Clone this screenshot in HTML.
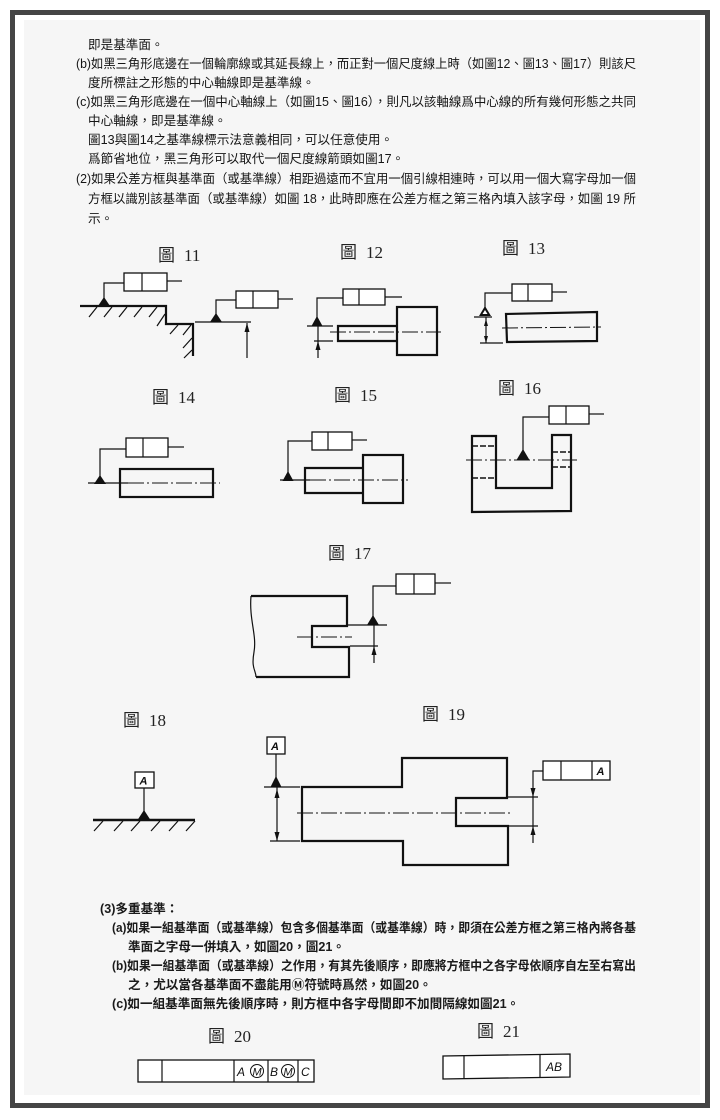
<!DOCTYPE html>
<html><head><meta charset="utf-8"><style>
html,body{margin:0;padding:0;background:#fff;}
svg{display:block;}
.t{font-family:"Liberation Sans","Noto Sans CJK TC",sans-serif;font-size:12.6px;fill:#151515;}
.tb{font-family:"Liberation Sans","Noto Sans CJK TC",sans-serif;font-size:12.6px;fill:#1a1a1a;font-weight:bold;}
.lb{font-family:"Liberation Serif","Noto Sans CJK TC",serif;font-size:17px;fill:#222;}
.it{font-family:"Liberation Sans",sans-serif;font-style:italic;font-weight:bold;font-size:11px;fill:#111;}
.th{stroke:#111;stroke-width:1.2;fill:none;}
.tk{stroke:#111;stroke-width:2.2;fill:none;}
.cl{stroke:#111;stroke-width:1;fill:none;stroke-dasharray:16 3 2 3;}
.dh{stroke:#111;stroke-width:1.6;fill:none;stroke-dasharray:6 2;}
.bx{stroke:#111;stroke-width:1.3;fill:#fff;}
.tri{fill:#111;}
</style></head><body>
<svg width="720" height="1120" viewBox="0 0 720 1120" xmlns="http://www.w3.org/2000/svg">
<rect x="0" y="0" width="720" height="1120" fill="#fff"/>
<rect x="24" y="20" width="676" height="1075" fill="#f6f6f6"/>
<rect x="12.5" y="12.5" width="695" height="1093" fill="none" stroke="#454545" stroke-width="5"/>

<!-- upper text -->
<text class="t" x="88" y="49">即是基準面。</text>
<text class="t" x="76" y="68" textLength="560" lengthAdjust="spacingAndGlyphs">(b)如黑三角形底邊在一個輪廓線或其延長線上，而正對一個尺度線上時（如圖12、圖13、圖17）則該尺</text>
<text class="t" x="88" y="87">度所標註之形態的中心軸線即是基準線。</text>
<text class="t" x="76" y="106" textLength="560" lengthAdjust="spacingAndGlyphs">(c)如黑三角形底邊在一個中心軸線上（如圖15、圖16），則凡以該軸線爲中心線的所有幾何形態之共同</text>
<text class="t" x="88" y="125">中心軸線，即是基準線。</text>
<text class="t" x="88" y="144">圖13與圖14之基準線標示法意義相同，可以任意使用。</text>
<text class="t" x="88" y="163">爲節省地位，黑三角形可以取代一個尺度線箭頭如圖17。</text>
<text class="t" x="76" y="183" textLength="560" lengthAdjust="spacingAndGlyphs">(2)如果公差方框與基準面（或基準線）相距過遠而不宜用一個引線相連時，可以用一個大寫字母加一個</text>
<text class="t" x="88" y="203" textLength="548" lengthAdjust="spacingAndGlyphs">方框以識別該基準面（或基準線）如圖 18，此時即應在公差方框之第三格內填入該字母，如圖 19 所</text>
<text class="t" x="88" y="223">示。</text>

<!-- figure labels -->
<text class="lb" x="158" y="261">圖<tspan dx="9">11</tspan></text>
<text class="lb" x="340" y="258">圖<tspan dx="9">12</tspan></text>
<text class="lb" x="502" y="254">圖<tspan dx="9">13</tspan></text>
<text class="lb" x="152" y="403">圖<tspan dx="9">14</tspan></text>
<text class="lb" x="334" y="401">圖<tspan dx="9">15</tspan></text>
<text class="lb" x="498" y="394">圖<tspan dx="9">16</tspan></text>
<text class="lb" x="328" y="559">圖<tspan dx="9">17</tspan></text>
<text class="lb" x="123" y="726">圖<tspan dx="9">18</tspan></text>
<text class="lb" x="422" y="720">圖<tspan dx="9">19</tspan></text>
<text class="lb" x="208" y="1042">圖<tspan dx="9">20</tspan></text>
<text class="lb" x="477" y="1037">圖<tspan dx="9">21</tspan></text>

<!-- Fig 11 -->
<rect class="bx" x="124" y="273" width="43" height="18"/>
<line class="th" x1="142" y1="273" x2="142" y2="291"/>
<line class="th" x1="167" y1="281" x2="182" y2="281"/>
<polyline class="th" points="124,283 104,283 104,300"/>
<polygon class="tri" points="104,297 98,306 110,306"/>
<polyline class="tk" points="80,306 166,306 166,324 193,324 193,356"/>
<g class="th">
<line x1="97" y1="307" x2="89" y2="317"/>
<line x1="112" y1="307" x2="104" y2="317"/>
<line x1="127" y1="307" x2="119" y2="317"/>
<line x1="142" y1="307" x2="134" y2="317"/>
<line x1="157" y1="307" x2="149" y2="317"/>
<line x1="165" y1="314" x2="157" y2="326"/>
<line x1="178" y1="325" x2="170" y2="334"/>
<line x1="191" y1="325" x2="183" y2="335"/>
<line x1="192" y1="338" x2="183" y2="348"/>
<line x1="192" y1="350" x2="184" y2="358"/>
</g>
<rect class="bx" x="236" y="291" width="42" height="17"/>
<line class="th" x1="253" y1="291" x2="253" y2="308"/>
<line class="th" x1="278" y1="299" x2="293" y2="299"/>
<polyline class="th" points="236,300 216,300 216,315"/>
<polygon class="tri" points="216,313 210,322 222,322"/>
<line class="th" x1="195" y1="322" x2="251" y2="322"/>
<line class="th" x1="247" y1="323" x2="247" y2="358"/>
<polygon class="tri" points="247,323 244.5,332 249.5,332"/>

<!-- Fig 12 -->
<rect class="bx" x="343" y="289" width="42" height="16"/>
<line class="th" x1="359" y1="289" x2="359" y2="305"/>
<line class="th" x1="385" y1="297" x2="402" y2="297"/>
<polyline class="th" points="343,298 317,298 317,318"/>
<polygon class="tri" points="317,316 311.5,326 322.5,326"/>
<line class="th" x1="307" y1="326" x2="333" y2="326"/>
<line class="th" x1="314" y1="341" x2="333" y2="341"/>
<line class="th" x1="318" y1="326" x2="318" y2="358"/>
<polygon class="tri" points="318,341 315.5,350 320.5,350"/>
<polyline class="tk" points="397,326 338,326 338,341 397,341"/>
<rect class="tk" x="397" y="307" width="40" height="48"/>
<line class="cl" x1="330" y1="332" x2="441" y2="332"/>

<!-- Fig 13 -->
<rect class="bx" x="512" y="284" width="40" height="17"/>
<line class="th" x1="528" y1="284" x2="528" y2="301"/>
<line class="th" x1="552" y1="292" x2="567" y2="292"/>
<polyline class="th" points="512,293 485,293 485,308"/>
<polygon class="tri" points="485,306 479,316 491,316"/>
<polygon fill="#fff" points="485,310 482.5,314 487.5,314"/>
<line class="th" x1="474" y1="317" x2="492" y2="317"/>
<line class="th" x1="480" y1="343" x2="503" y2="343"/>
<line class="th" x1="486" y1="317" x2="486" y2="343"/>
<polygon class="tri" points="486,319 484,326 488,326"/>
<polygon class="tri" points="486,343 484,336 488,336"/>
<polygon class="tk" points="506,314 597,312 597,341 507,342"/>
<line class="cl" x1="502" y1="328" x2="601" y2="327"/>

<!-- Fig 14 -->
<rect class="bx" x="126" y="438" width="42" height="19"/>
<line class="th" x1="143" y1="438" x2="143" y2="457"/>
<line class="th" x1="168" y1="447" x2="184" y2="447"/>
<polyline class="th" points="126,449 100,449 100,477"/>
<polygon class="tri" points="100,475 94,484 106,484"/>
<line class="th" x1="88" y1="483" x2="128" y2="483"/>
<line class="cl" x1="128" y1="483" x2="220" y2="483"/>
<rect class="tk" x="120" y="469" width="93" height="28"/>

<!-- Fig 15 -->
<rect class="bx" x="312" y="432" width="40" height="18"/>
<line class="th" x1="328" y1="432" x2="328" y2="450"/>
<line class="th" x1="352" y1="440" x2="367" y2="440"/>
<polyline class="th" points="312,441 288,441 288,473"/>
<polygon class="tri" points="288,471 282.5,481 293.5,481"/>
<line class="th" x1="280" y1="480" x2="310" y2="480"/>
<line class="cl" x1="310" y1="480" x2="408" y2="480"/>
<polyline class="tk" points="363,468 305,468 305,493 363,493"/>
<rect class="tk" x="363" y="455" width="40" height="48"/>

<!-- Fig 16 -->
<rect class="bx" x="549" y="406" width="40" height="18"/>
<line class="th" x1="566" y1="406" x2="566" y2="424"/>
<line class="th" x1="589" y1="414" x2="604" y2="414"/>
<polyline class="th" points="549,417 523,417 523,451"/>
<polygon class="tri" points="523,449 516.5,460 529.5,460"/>
<line class="cl" x1="466" y1="460" x2="577" y2="460"/>
<polygon class="tk" points="472,436 496,436 496,488 552,488 552,435 571,435 571,511 472,512"/>
<line class="dh" x1="472" y1="446" x2="496" y2="446"/>
<line class="dh" x1="472" y1="478" x2="496" y2="478"/>
<line class="dh" x1="552" y1="452" x2="571" y2="452"/>
<line class="dh" x1="552" y1="467" x2="571" y2="467"/>

<!-- Fig 17 -->
<rect class="bx" x="396" y="574" width="39" height="20"/>
<line class="th" x1="414" y1="574" x2="414" y2="594"/>
<line class="th" x1="435" y1="583" x2="451" y2="583"/>
<polyline class="th" points="396,586 373,586 373,617"/>
<polygon class="tri" points="373,615 367,625 379,625"/>
<polyline class="tk" points="251,596 347,596 347,626 312,626 312,647 349,647 349,677 256,677"/>
<path class="th" d="M251,596 C249,620 257,635 254,652 S256,670 256,677"/>
<line class="th" x1="348" y1="625" x2="387" y2="625"/>
<line class="th" x1="350" y1="646" x2="378" y2="646"/>
<line class="th" x1="374" y1="625" x2="374" y2="663"/>
<polygon class="tri" points="374,646 371.5,655 376.5,655"/>
<line class="cl" x1="297" y1="637" x2="352" y2="637"/>

<!-- Fig 18 -->
<rect class="bx" x="135" y="772" width="19" height="16"/>
<text class="it" x="139.5" y="784.5">A</text>
<line class="th" x1="144" y1="788" x2="144" y2="813"/>
<polygon class="tri" points="144,810 137.5,820 150.5,820"/>
<line stroke="#111" stroke-width="2.6" x1="93" y1="820" x2="195" y2="820"/>
<g class="th">
<line x1="103" y1="821" x2="94" y2="831"/>
<line x1="123" y1="821" x2="114" y2="831"/>
<line x1="140" y1="821" x2="131" y2="831"/>
<line x1="160" y1="821" x2="151" y2="831"/>
<line x1="178" y1="821" x2="169" y2="831"/>
<line x1="195" y1="821" x2="186" y2="831"/>
</g>

<!-- Fig 19 -->
<rect class="bx" x="267" y="737" width="18" height="17"/>
<text class="it" x="271" y="750">A</text>
<line class="th" x1="276" y1="754" x2="276" y2="778"/>
<polygon class="tri" points="276,776 270.5,787 281.5,787"/>
<line class="th" x1="264" y1="787" x2="300" y2="787"/>
<line class="th" x1="270" y1="841" x2="300" y2="841"/>
<line class="th" x1="277" y1="787" x2="277" y2="841"/>
<polygon class="tri" points="277,789 274.5,798 279.5,798"/>
<polygon class="tri" points="277,841 274.5,832 279.5,832"/>
<polygon class="tk" points="302,787 402,787 402,758 507,758 507,798 456,798 456,826 508,826 508,865 403,865 403,841 302,841"/>
<line class="cl" x1="297" y1="813" x2="512" y2="813"/>
<line class="th" x1="508" y1="797" x2="538" y2="797"/>
<line class="th" x1="508" y1="826" x2="538" y2="826"/>
<polyline class="th" points="543,771 533,771 533,843"/>
<polygon class="tri" points="533,797 530.5,788 535.5,788"/>
<polygon class="tri" points="533,826 530.5,835 535.5,835"/>
<rect class="bx" x="543" y="761" width="67" height="19"/>
<line class="th" x1="561" y1="761" x2="561" y2="780"/>
<line class="th" x1="592" y1="761" x2="592" y2="780"/>
<text class="it" x="596.5" y="775">A</text>

<!-- lower text -->
<text class="tb" x="100" y="913">(3)多重基準：</text>
<text class="tb" x="112" y="932" textLength="524" lengthAdjust="spacingAndGlyphs">(a)如果一組基準面（或基準線）包含多個基準面（或基準線）時，即須在公差方框之第三格內將各基</text>
<text class="tb" x="128" y="951">準面之字母一併填入，如圖20，圖21。</text>
<text class="tb" x="112" y="970" textLength="524" lengthAdjust="spacingAndGlyphs">(b)如果一組基準面（或基準線）之作用，有其先後順序，即應將方框中之各字母依順序自左至右寫出</text>
<text class="tb" x="128" y="989">之，尤以當各基準面不盡能用Ⓜ符號時爲然，如圖20。</text>
<text class="tb" x="112" y="1008">(c)如一組基準面無先後順序時，則方框中各字母間即不加間隔線如圖21。</text>

<!-- Fig 20 -->
<rect class="bx" x="138" y="1060" width="176" height="22"/>
<line class="th" x1="162" y1="1060" x2="162" y2="1082"/>
<line class="th" x1="234" y1="1060" x2="234" y2="1082"/>
<line class="th" x1="268" y1="1060" x2="268" y2="1082"/>
<line class="th" x1="298" y1="1060" x2="298" y2="1082"/>
<text class="it" x="237" y="1076" style="font-weight:normal;font-size:12px">A</text>
<circle cx="257" cy="1071" r="6.5" fill="none" stroke="#111" stroke-width="1"/>
<text class="it" x="252.5" y="1075.5" style="font-weight:normal;font-size:11px">M</text>
<text class="it" x="270" y="1076" style="font-weight:normal;font-size:12px">B</text>
<circle cx="288" cy="1071" r="6.5" fill="none" stroke="#111" stroke-width="1"/>
<text class="it" x="283.5" y="1075.5" style="font-weight:normal;font-size:11px">M</text>
<text class="it" x="301" y="1076" style="font-weight:normal;font-size:12px">C</text>

<!-- Fig 21 -->
<polygon class="bx" points="443,1056 570,1054 570,1077 443,1079"/>
<line class="th" x1="464" y1="1056" x2="464" y2="1079"/>
<line class="th" x1="540" y1="1055" x2="540" y2="1078"/>
<text class="it" x="546" y="1071" style="font-weight:normal;font-size:12px">AB</text>
</svg>
</body></html>
